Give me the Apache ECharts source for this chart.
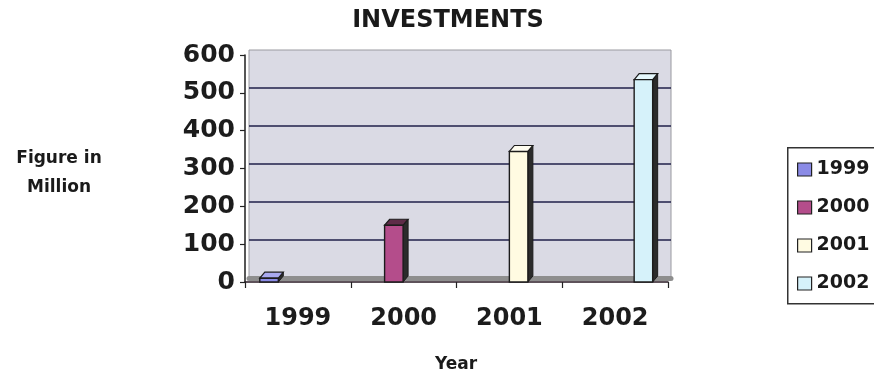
<!DOCTYPE html>
<html>
<head>
<meta charset="utf-8">
<title>Investments</title>
<script src="https://cdn.jsdelivr.net/npm/echarts@6/dist/echarts.min.js"></script>
<style>
  html, body { margin: 0; padding: 0; background: #ffffff; }
  #chart { width: 874px; height: 376px; }
</style>
</head>
<body>
<div id="chart"></div>
<script>
// Years on the category axis (also the series names in the legend)
const categories = ['1999', '2000', '2001', '2002'];
// Investment per year, in millions
const investments = [10, 150, 345, 535];
// Value-axis tick labels
const yTicks = [0, 100, 200, 300, 400, 500, 600];

const FONT = 'DejaVu Sans';
const frontColors = ['#8b8be6', '#b44d8b', '#fffbe2', '#d6f2fa'];
const topColors   = ['#a9a9ee', '#5e2c48', '#fffdf0', '#e6f8fd'];
const sideColor   = '#2b2b2b';
const edgeColor   = '#1c1c1c';

// Draws one bar as a small 3D column: front face, top face, right side face.
function renderColumn(params, api) {
  const cat = api.value(0);
  const val = api.value(1);
  const band = api.size([1, 0])[0];
  const base = api.coord([cat, 0]);
  const top = api.coord([cat, val]);
  const w = band * 0.175;
  const x0 = base[0] - band / 2 + band * 0.14 + params.seriesIndex * band * 0.18;
  const dx = 5, dy = 6;
  const i = params.seriesIndex;
  return {
    type: 'group',
    children: [
      {
        type: 'polygon',
        shape: { points: [[x0 + w, top[1]], [x0 + w + dx, top[1] - dy], [x0 + w + dx, base[1] - dy], [x0 + w, base[1]]] },
        style: { fill: sideColor, stroke: edgeColor, lineWidth: 1 }
      },
      {
        type: 'polygon',
        shape: { points: [[x0, top[1]], [x0 + dx, top[1] - dy], [x0 + w + dx, top[1] - dy], [x0 + w, top[1]]] },
        style: { fill: topColors[i], stroke: edgeColor, lineWidth: 1.2 }
      },
      {
        type: 'rect',
        shape: { x: x0, y: top[1], width: w, height: base[1] - top[1] },
        style: { fill: frontColors[i], stroke: edgeColor, lineWidth: 1.4 }
      }
    ]
  };
}

const chart = echarts.init(document.getElementById('chart'), null, { renderer: 'canvas' });

const yMin = yTicks[0];
const yMax = yTicks[yTicks.length - 1];
const yStep = yTicks[1] - yTicks[0];

chart.setOption({
  animation: false,
  backgroundColor: '#ffffff',
  title: [
    {
      text: 'INVESTMENTS',
      left: 448, top: 9, textAlign: 'center', padding: 0,
      textStyle: { fontFamily: FONT, fontSize: 24, fontWeight: 'bold', color: '#1a1a1a' }
    },
    {
      text: 'Figure in\nMillion',
      left: 59, top: 144, textAlign: 'center', padding: 0,
      textStyle: { fontFamily: FONT, fontSize: 17, fontWeight: 'bold', color: '#1a1a1a', lineHeight: 29, align: 'center' }
    },
    {
      text: 'Year',
      left: 456, top: 356, textAlign: 'center', padding: 0,
      textStyle: { fontFamily: FONT, fontSize: 17, fontWeight: 'bold', color: '#1a1a1a' }
    }
  ],
  // Legend frame runs past the right edge of the canvas
  graphic: [
    {
      type: 'rect', left: 787, top: 147, z: 0,
      shape: { width: 140, height: 156 },
      style: { fill: '#ffffff', stroke: '#333333', lineWidth: 1.5 }
    }
  ],
  legend: {
    orient: 'vertical',
    left: 787, top: 147,
    padding: [13, 10, 10, 10],
    itemGap: 19,
    itemWidth: 14, itemHeight: 13,
    icon: 'rect',
    itemStyle: { borderColor: '#222222', borderWidth: 1.2 },
    textStyle: { fontFamily: FONT, fontSize: 19, fontWeight: 'bold', color: '#1a1a1a' },
    data: categories
  },
  grid: [
    // front axes and columns
    { left: 245, right: 206, top: 55, bottom: 94 },
    // back wall with gridlines, lifted a few pixels for depth
    { left: 249, right: 203, top: 50, bottom: 98, show: true, backgroundColor: '#dadae4', borderColor: '#9a9aa0', borderWidth: 1 }
  ],
  xAxis: [
    {
      gridIndex: 0, type: 'category', data: categories,
      axisLine: { show: true, lineStyle: { color: '#2a1a24', width: 1.5 } },
      axisTick: { show: true, length: 6, lineStyle: { color: '#222222', width: 1.2 } },
      axisLabel: { fontFamily: FONT, fontSize: 24, fontWeight: 'bold', color: '#1c1c1c', margin: 25 },
      splitLine: { show: false }
    },
    {
      gridIndex: 1, type: 'category', data: categories,
      axisLine: { show: true, lineStyle: { color: '#8e8e8e', width: 5 } },
      axisTick: { show: false },
      axisLabel: { show: false },
      splitLine: { show: false }
    }
  ],
  yAxis: [
    {
      gridIndex: 0, type: 'value', min: yMin, max: yMax, interval: yStep,
      axisLine: { show: true, lineStyle: { color: '#1e1e1e', width: 1.5 } },
      axisTick: { show: true, length: 5, lineStyle: { color: '#222222', width: 1.2 } },
      axisLabel: { fontFamily: FONT, fontSize: 25, fontWeight: 'bold', color: '#1c1c1c', margin: 10 },
      splitLine: { show: false }
    },
    {
      gridIndex: 1, type: 'value', min: yMin, max: yMax, interval: yStep,
      axisLine: { show: false }, axisTick: { show: false }, axisLabel: { show: false },
      splitLine: { show: true, showMinLine: false, showMaxLine: false, lineStyle: { color: '#1f1f4a', width: 1.6 } }
    }
  ],
  series: categories.map((name, i) => ({
    name: name,
    type: 'custom',
    xAxisIndex: 0, yAxisIndex: 0,
    itemStyle: { color: frontColors[i] },
    encode: { x: 0, y: 1 },
    renderItem: renderColumn,
    data: [[i, investments[i]]]
  }))
});
</script>
</body>
</html>
